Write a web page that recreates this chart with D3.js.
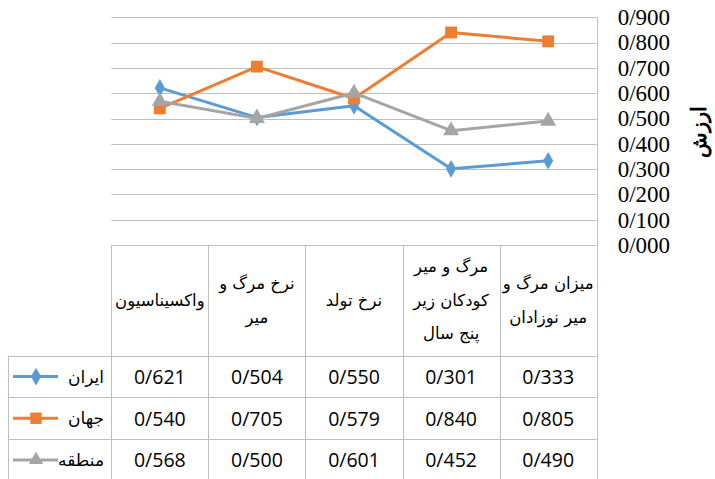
<!DOCTYPE html>
<html>
<head>
<meta charset="utf-8">
<script src="https://cdn.jsdelivr.net/npm/d3@7"></script>
<style>
  body { margin: 0; background: #fff; }
  svg { display: block; }
</style>
</head>
<body>
<div id="chart"></div>
<script>
// chart data
const categories = ["واکسیناسیون", "نرخ مرگ و میر", "نرخ تولد", "مرگ و میر کودکان زیر پنج سال", "میزان مرگ و میر نوزادان"];
const categoryLines = [["واکسیناسیون"], ["نرخ مرگ و", "میر"], ["نرخ تولد"], ["مرگ و میر", "کودکان زیر", "پنج سال"], ["میزان مرگ و", "میر نوزادان"]];
const seriesNames = ["ایران", "جهان", "منطقه"];
const iranValues = [0.621, 0.504, 0.550, 0.301, 0.333];
const worldValues = [0.540, 0.705, 0.579, 0.840, 0.805];
const regionValues = [0.568, 0.500, 0.601, 0.452, 0.490];
const yTicks = [0, 0.1, 0.2, 0.3, 0.4, 0.5, 0.6, 0.7, 0.8, 0.9];
const axisTitle = "ارزش";

const seriesColors = ["#5B9BD5", "#ED7D31", "#A5A5A5"];
const seriesSymbols = [d3.symbolDiamond, d3.symbolSquare, d3.symbolTriangle];
const allSeries = [iranValues, worldValues, regionValues];

const width = 715, height = 479;
const plotLeft = 111.3, plotRight = 596.7, plotTop = 17.3, plotBottom = 245;
const rowH = 41.7, headerBottom = 355.7, legendLeft = 7.7;
const gridColor = "#BFBFBF";
const fmt = v => "0/" + d3.format(".3f")(v).slice(2);

const svg = d3.select("#chart").append("svg")
    .attr("width", width)
    .attr("height", height);

let x = d3.scaleBand().domain(categories).range([plotLeft, plotRight]);
let y = d3.scaleLinear().domain([0, 0.9]).range([plotBottom, plotTop]);

// horizontal gridlines
svg.append("g").selectAll("line").data(yTicks.slice(1)).enter()
    .append("line")
    .attr("x1", plotLeft).attr("x2", plotRight)
    .attr("y1", d => Math.round(y(d)) + 0.5).attr("y2", d => Math.round(y(d)) + 0.5)
    .style("stroke", gridColor).style("stroke-width", 1);

// y axis on the right
let yAxis = d3.axisRight(y).tickValues(yTicks).tickSize(0).tickPadding(21).tickFormat(fmt);
let yg = svg.append("g")
    .attr("transform", "translate(" + plotRight + ",0)")
    .call(yAxis);
yg.select(".domain").remove();
yg.selectAll("text")
    .style("font-family", "'Liberation Serif'")
    .style("font-size", "23px")
    .style("fill", "#000");

// axis title
svg.append("text")
    .attr("transform", "translate(699,132) rotate(-90)")
    .attr("text-anchor", "middle")
    .attr("dominant-baseline", "central")
    .style("font-family", "'Liberation Serif'")
    .style("font-weight", "bold")
    .style("font-size", "21px")
    .text(axisTitle);

// table grid
let tableBottom = headerBottom + rowH * 3;
let tg = svg.append("g").style("stroke", gridColor).style("stroke-width", 1);
let colEdges = categories.map(c => x(c)).concat([plotRight]);
tg.selectAll("line.v").data(colEdges).enter().append("line")
    .attr("x1", d => Math.round(d) + 0.5).attr("x2", d => Math.round(d) + 0.5)
    .attr("y1", (d, i) => i === colEdges.length - 1 ? plotTop : plotBottom)
    .attr("y2", tableBottom);
tg.append("line")
    .attr("x1", plotLeft).attr("x2", plotRight)
    .attr("y1", plotBottom + 0.5).attr("y2", plotBottom + 0.5);
let rowEdges = [0, 1, 2, 3].map(i => headerBottom + i * rowH);
tg.selectAll("line.h").data(rowEdges).enter().append("line")
    .attr("x1", legendLeft).attr("x2", plotRight)
    .attr("y1", d => Math.round(d) + 0.5).attr("y2", d => Math.round(d) + 0.5);
tg.append("line")
    .attr("x1", Math.round(legendLeft) + 0.5).attr("x2", Math.round(legendLeft) + 0.5)
    .attr("y1", headerBottom).attr("y2", tableBottom);

// header labels
let lineGap = 33.5;
let hg = svg.append("g")
    .style("font-family", "'DejaVu Sans', sans-serif")
    .style("font-size", "16.5px");
categories.forEach(function(c, i){
    let lines = categoryLines[i];
    let cy = (plotBottom + headerBottom) / 2;
    let start = cy - (lines.length - 1) * lineGap / 2;
    lines.forEach(function(t, j){
        hg.append("text")
            .attr("x", x(c) + x.bandwidth() / 2)
            .attr("y", start + j * lineGap)
            .attr("text-anchor", "middle")
            .attr("dominant-baseline", "central")
            .attr("direction", "rtl")
            .text(t);
    });
});

// data cells and legend
let cg = svg.append("g")
    .style("font-family", "'Open Sans', 'Liberation Sans', sans-serif")
    .style("font-size", "19.5px");
allSeries.forEach(function(vals, s){
    let cy = headerBottom + rowH * s + rowH / 2;
    cg.selectAll("text.s" + s).data(vals).enter().append("text")
        .attr("x", (d, i) => x(categories[i]) + x.bandwidth() / 2)
        .attr("y", cy)
        .attr("text-anchor", "middle")
        .attr("dominant-baseline", "central")
        .text(d => fmt(d));
    svg.append("text")
        .attr("x", 104)
        .attr("y", cy)
        .attr("text-anchor", "end")
        .attr("dominant-baseline", "central")
        .style("font-family", "'DejaVu Sans', sans-serif")
        .style("font-size", "17px")
        .text(seriesNames[s]);
    svg.append("line")
        .attr("x1", 13).attr("x2", 58)
        .attr("y1", cy).attr("y2", cy)
        .style("stroke", seriesColors[s]).style("stroke-width", 3);
    svg.append("path")
        .attr("d", d3.symbol().type(seriesSymbols[s]).size(s === 1 ? 130 : 90)())
        .attr("transform", "translate(36," + cy + ")")
        .style("fill", seriesColors[s]);
});

// series lines and markers
let line = d3.line()
    .x((d, i) => x(categories[i]) + x.bandwidth() / 2)
    .y(d => y(d));
allSeries.forEach(function(vals, s){
    svg.append("path")
        .datum(vals)
        .attr("d", line)
        .style("fill", "none")
        .style("stroke", seriesColors[s])
        .style("stroke-width", 3)
        .style("stroke-linejoin", "round");
    svg.append("g").selectAll("path").data(vals).enter().append("path")
        .attr("d", d3.symbol().type(seriesSymbols[s]).size(s === 1 ? 140 : (s === 0 ? 90 : 110)))
        .attr("transform", (d, i) => "translate(" + (x(categories[i]) + x.bandwidth() / 2) + "," + y(d) + ")")
        .style("fill", seriesColors[s]);
});
</script>
</body>
</html>
